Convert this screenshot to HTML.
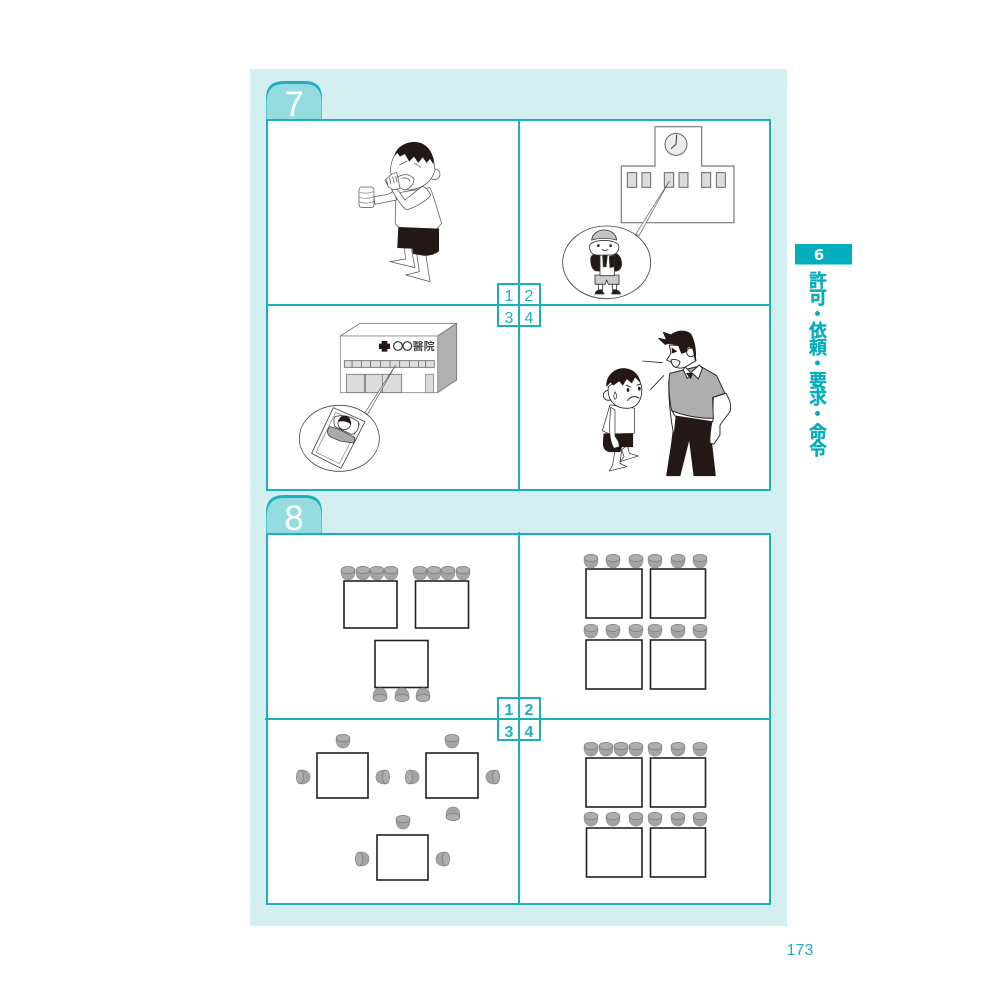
<!DOCTYPE html>
<html><head><meta charset="utf-8"><style>
html,body{margin:0;padding:0;background:#fff}
svg{display:block}
text{font-family:"Liberation Sans","Noto Sans CJK JP",sans-serif}
</style></head><body>
<svg xmlns="http://www.w3.org/2000/svg" width="1000" height="1000" viewBox="0 0 1000 1000">
<defs>
<g id="c">
<path d="M-6.800,-3 C-7.200,1 -6.500,3 -5,4.800 C-3.500,6.500 -2,7 0,7 C2,7 3.500,6.500 5,4.800 C6.500,3 7.200,1 6.800,-3 Z" fill="#a3a3a3" stroke="#8c8c8c" stroke-width=".7"/>
<ellipse cx="0" cy="-3" rx="6.800" ry="3.600" fill="#adadad" stroke="#7c7c7c" stroke-width=".7"/>
</g>
</defs>
<rect x="250" y="69" width="537" height="857" fill="#d4eff0"/>

<!-- tabs -->
<path d="M266,120 V98 Q266,81 284,81 H305 Q322,81 322,98 V120 Z" fill="#1cb0bd"/>
<path d="M266.500,120 V102 Q267,84 284,84 H305 Q321.500,84 321.500,102 V120 Z" fill="#95dce0"/>
<text x="294" y="116" font-size="35" fill="#fff" text-anchor="middle">7</text>
<path d="M266,534 V512 Q266,495 284,495 H305 Q322,495 322,512 V534 Z" fill="#1cb0bd"/>
<path d="M266.500,534 V516 Q267,498 284,498 H305 Q321.500,498 321.500,516 V534 Z" fill="#95dce0"/>
<text x="294" y="530" font-size="35" fill="#fff" text-anchor="middle">8</text>

<!-- frames -->
<rect x="267" y="120" width="503" height="370" fill="#fff" stroke="#1cb0bd" stroke-width="2"/>
<rect x="267" y="534" width="503" height="370" fill="#fff" stroke="#1cb0bd" stroke-width="2"/>

<!-- Boy drinking -->
<g transform="translate(260,75) scale(.3333)" fill="#fff" stroke="#555" stroke-width="2.200" stroke-linejoin="round">
<path d="M433,520 L437,552 L390,560 L465,578 L453,515 Z"/>
<path d="M470,535 L478,590 L437,600 L510,620 L497,535 Z"/>
<path d="M405,355 C412,395 402,430 407,448 L420,460 L530,463 L545,445 C530,400 525,370 510,338 Z"/>
<path d="M416,457 L536,462 L536,528 Q520,542 490,541 L460,536 L458,520 L413,518 Z" fill="#231815" stroke="#231815"/>
<path d="M342,365 L385,358 L402,348 L410,375 L345,388 Z"/>
<path d="M395,345 C410,370 425,395 440,405 C470,395 500,378 512,360 C505,345 495,335 485,335 L435,375 L410,340 Z"/>
<circle cx="524" cy="298" r="16"/>
<path d="M407,235 C395,255 385,285 397,310 C405,335 425,345 450,345 C485,340 515,325 525,285 L520,250 L465,205 Z"/>
<path d="M405,240 C412,215 440,200 470,202 C497,205 520,230 520,265 L510,250 L500,262 L488,245 L475,262 L462,243 L448,258 L435,236 L420,243 L412,232 Z" fill="#231815" stroke="#231815"/>
<path d="M418,270 Q430,264 442,258 M462,265 Q472,268 482,278" fill="none"/>
<path d="M415,305 Q445,290 462,312 Q462,335 435,345 Q415,340 412,325 Z" fill="#fff"/>
<path d="M425,310 Q445,305 450,320" fill="none"/>
<path d="M375,315 L395,298 L410,292 L415,315 L420,340 L400,345 L385,335 Z"/>
<path d="M378,312 L384,330 M388,308 L393,328 M398,305 L403,325 M407,303 L411,322" fill="none"/>
<rect x="297" y="336" width="45" height="62" rx="9"/>
<path d="M299,352 Q320,358 341,350 M299,367 Q320,375 341,365 M299,381 Q320,388 341,380" fill="none" stroke="#888"/>
</g>

<!-- School -->
<g transform="translate(520,115) scale(.3333)">
<path d="M304,153 H405 V35 H545 V153 H642 V323 H304 Z" fill="#fff" stroke="#777" stroke-width="3.500"/>
<circle cx="468" cy="88" r="33" fill="#ececec" stroke="#666" stroke-width="3"/>
<path d="M468,88 L470,60 M468,88 L453,101" stroke="#333" stroke-width="3" fill="none"/>
<g fill="#dcdcdc" stroke="#666" stroke-width="3">
<rect x="322" y="173" width="28" height="44"/><rect x="366" y="173" width="26" height="44"/>
<rect x="433" y="173" width="28" height="44"/><rect x="477" y="173" width="27" height="44"/>
<rect x="545" y="173" width="27" height="44"/><rect x="589" y="173" width="27" height="44"/>
</g>
<path d="M448,198 L347,358 L357,362 Z" fill="#fff" stroke="#555" stroke-width="2"/>
<ellipse cx="260" cy="442" rx="132" ry="109" fill="#fff" stroke="#444" stroke-width="2.500"/>
<!-- kid -->
<g stroke="#333" stroke-width="2.500" stroke-linejoin="round">
<path d="M225,480 H297 V508 H265 L260,495 L255,508 H225 Z" fill="#ccc"/>
<path d="M235,508 H248 V525 H235 Z M277,508 H290 V525 H277 Z" fill="#fff"/>
<path d="M225,537 Q228,524 245,524 L252,537 Z M275,537 L280,524 Q298,524 302,537 Z" fill="#231815"/>
<path d="M212,430 Q215,415 240,415 H285 Q305,420 305,450 Q300,470 285,468 H235 Q212,470 212,430 Z" fill="#231815"/>
<path d="M240,418 H283 V482 H240 Z" fill="#fff"/>
<path d="M248,420 H262 L258,455 H250 Z M268,425 L283,420 V455 L270,458 Z" fill="#231815"/>
<path d="M208,395 C210,370 295,370 297,395 C295,425 270,420 250,420 C225,422 210,420 208,395 Z" fill="#fff"/>
<path d="M215,375 C220,335 285,335 290,375 C265,368 240,368 215,375 Z" fill="#c4c4c4"/>
<circle cx="235" cy="392" r="3" fill="#222"/><circle cx="272" cy="392" r="3" fill="#222"/>
<path d="M245,403 Q255,410 265,403" fill="none"/>
</g>
</g>

<!-- Hospital -->
<g transform="translate(280,305) scale(.3333)">
<path d="M181,93 L240,55 H530 L473,93 Z" fill="#fff" stroke="#777" stroke-width="2.500"/>
<path d="M473,93 L530,55 V225 L473,263 Z" fill="#b0b0b0" stroke="#777" stroke-width="2.500"/>
<rect x="181" y="93" width="292" height="170" fill="#fff" stroke="#888" stroke-width="2.500"/>
<path d="M305,108 H322 V116 H330 V132 H322 V140 H305 V132 H297 V116 H305 Z" fill="#231815"/>
<circle cx="354" cy="123" r="13" fill="none" stroke="#333" stroke-width="3.500"/>
<circle cx="382" cy="123" r="13" fill="none" stroke="#333" stroke-width="3.500"/>
<text x="398" y="135" font-size="33" fill="#444" font-weight="bold" style='font-family:"Noto Sans CJK TC",sans-serif'>醫院</text>
<rect x="193" y="167" width="270" height="20" fill="#ddd" stroke="#666" stroke-width="2.500"/>
<path d="M216,167 V187 M244,167 V187 M272,167 V187 M302,167 V187 M330,167 V187 M359,167 V187 M388,167 V187 M416,167 V187 M437,167 V187" stroke="#666" stroke-width="2.500"/>
<rect x="199" y="208" width="166" height="55" fill="#dcdcdc" stroke="#777" stroke-width="2.500"/>
<path d="M253,208 V263 M257,208 V263 M307,208 V263" stroke="#777" stroke-width="2.500"/>
<rect x="437" y="208" width="24" height="55" fill="#dcdcdc" stroke="#888" stroke-width="2.500"/>
<path d="M347,180 L255,323 L263,328 Z" fill="#fff" stroke="#555" stroke-width="2"/>
<ellipse cx="178" cy="400" rx="120" ry="99" fill="#fff" stroke="#444" stroke-width="2.500"/>
<path d="M160,308 L255,350 L183,490 L95,445 Z" fill="#fff" stroke="#444" stroke-width="2.500" stroke-linejoin="round"/>
<path d="M167,322 L240,356 L178,476 L108,442 Z" fill="none" stroke="#777" stroke-width="1.800"/>
<path d="M165,335 Q200,325 235,350 Q240,380 215,388 L165,365 Q158,345 165,335 Z" fill="#fff" stroke="#444" stroke-width="2.500"/>
<path d="M150,365 L175,372 L225,398 L222,414 L180,408 L150,395 Q135,380 150,365 Z" fill="#aaa" stroke="#444" stroke-width="2.500"/>
<circle cx="193" cy="355" r="19" fill="#fff" stroke="#333" stroke-width="2.500"/>
<path d="M175,350 Q180,328 200,333 Q215,340 212,358 Q198,345 175,350 Z" fill="#231815"/>
</g>

<!-- Man and boy -->
<g transform="translate(570,310) scale(.3333)" stroke="#222" stroke-width="2.800" stroke-linejoin="round" fill="#fff">
<path d="M315,315 L430,330 L425,400 L436,497 H372 L358,385 L330,497 H290 L305,400 Z" fill="#231815" stroke="#231815"/>
<path d="M430,262 L468,250 C480,270 485,290 480,305 L450,345 L450,375 L432,402 L420,400 C418,370 425,340 428,325 Z"/>
<path d="M296,215 C296,260 300,320 312,378 L318,320 L305,300 L300,210 Z"/>
<path d="M305,300 L430,322 L428,335 L315,318 Z"/>
<path d="M300,190 C293,215 298,270 305,302 C345,318 390,325 430,325 L428,262 L465,250 L440,197 L390,168 L340,180 Z" fill="#aeaeae"/>
<path d="M340,180 L352,205 L368,190 L385,207 L397,175 L388,165 L362,188 L345,170 Z" fill="#fff"/>
<path d="M350,190 L362,205 L368,190 Z" fill="#231815"/>
<path d="M298,105 L303,130 L290,150 L303,156 C310,172 325,178 345,172 L378,152 L368,108 Z"/>
<path d="M303,150 Q318,145 330,155 Q328,170 316,172 Q306,168 303,150 Z" fill="#fff"/>
<circle cx="363" cy="127" r="13"/>
<path d="M266,85 L290,90 L280,67 L303,75 C320,62 345,58 362,72 C375,95 378,125 376,152 L370,120 C362,105 350,108 348,125 L335,130 L325,105 L300,100 L285,103 Z" fill="#231815" stroke="#231815"/>
<path d="M305,112 L322,125 L306,130 Z" fill="#231815" stroke="none"/>
<path d="M217,153 L278,158 M241,239 L282,196" fill="none" stroke-width="2.500"/>
<!-- boy -->
<path d="M135,420 L128,465 L118,483 L170,470 L150,460 L155,420 Z" stroke-width="2"/>
<path d="M155,420 L162,440 L150,455 L205,438 L178,430 L172,405 Z" stroke-width="2"/>
<path d="M120,285 L97,362 L118,372 L193,370 L193,295 L175,290 Z" stroke-width="2"/>
<path d="M102,372 H188 V410 H155 L150,425 L118,425 Q100,420 100,400 Z" fill="#231815" stroke="#231815"/>
<path d="M118,355 C120,380 122,400 132,415 L148,410 L146,396 L135,378 L135,300 L122,292 Z" stroke-width="2"/>
<circle cx="115" cy="256" r="15" stroke-width="2.500"/>
<path d="M115,230 C110,270 135,295 170,295 C205,295 218,265 215,230 C210,205 190,190 165,190 Z" stroke-width="2.500"/>
<path d="M110,228 C110,195 135,175 165,176 C190,178 205,195 210,215 L195,200 L185,218 L170,205 L158,225 L148,212 L130,225 L122,215 Z" fill="#231815" stroke="#231815"/>
<path d="M135,245 Q128,260 135,268 Q145,262 135,245 Z" stroke-width="2"/>
<ellipse cx="174" cy="240" rx="4" ry="6" fill="#222" stroke="none"/>
<ellipse cx="208" cy="236" rx="4" ry="6" fill="#222" stroke="none"/>
<path d="M168,225 L182,232 M200,226 L212,222 M172,272 Q188,252 208,265" fill="none" stroke-width="3"/>
</g>

<!-- grid lines 7 -->
<path d="M519,120 V490 M267,305 H770" stroke="#1cb0bd" stroke-width="2" fill="none"/>
<rect x="498" y="284" width="42" height="42" fill="#fff" stroke="#1cb0bd" stroke-width="2"/>
<path d="M519,284 V326 M498,305 H540" stroke="#1cb0bd" stroke-width="2"/>
<g font-size="16" fill="#1cb0bd" text-anchor="middle">
<text x="509" y="301">1</text><text x="529" y="301">2</text><text x="509" y="323">3</text><text x="529" y="323">4</text>
</g>

<!-- tables 8 -->
<g fill="#fff" stroke="#222" stroke-width="1.600">
<rect x="344" y="581" width="53" height="47"/><rect x="415.500" y="581" width="53" height="47"/><rect x="375" y="640.500" width="53" height="47"/>
<rect x="586" y="569" width="56" height="49"/><rect x="650.500" y="569" width="55" height="49"/><rect x="586" y="640" width="56" height="49"/><rect x="650.500" y="640" width="55" height="49"/>
<rect x="317" y="753" width="51" height="45"/><rect x="426" y="753" width="52" height="45"/><rect x="377" y="835" width="51" height="45"/>
<rect x="586" y="758" width="56" height="49"/><rect x="650.500" y="758" width="55" height="49"/><rect x="586.500" y="828" width="55.500" height="49"/><rect x="650.500" y="828" width="55" height="49"/>
</g>
<use href="#c" x="348" y="573"/><use href="#c" x="363" y="573"/><use href="#c" x="377" y="573"/><use href="#c" x="391" y="573"/>
<use href="#c" x="420" y="573"/><use href="#c" x="434" y="573"/><use href="#c" x="448" y="573"/><use href="#c" x="463" y="573"/>
<use href="#c" transform="translate(380,695) rotate(180)"/><use href="#c" transform="translate(402,695) rotate(180)"/><use href="#c" transform="translate(423,695) rotate(180)"/>
<use href="#c" x="591" y="561"/><use href="#c" x="613" y="561"/><use href="#c" x="636" y="561"/><use href="#c" x="655" y="561"/><use href="#c" x="678" y="561"/><use href="#c" x="700" y="561"/>
<use href="#c" x="591" y="631"/><use href="#c" x="613" y="631"/><use href="#c" x="636" y="631"/><use href="#c" x="655" y="631"/><use href="#c" x="678" y="631"/><use href="#c" x="700" y="631"/>
<use href="#c" x="343" y="741"/><use href="#c" x="452" y="741"/><use href="#c" x="403" y="822"/>
<use href="#c" transform="translate(453,814) rotate(180)"/>
<use href="#c" transform="translate(303,777) rotate(-90)"/><use href="#c" transform="translate(412,777) rotate(-90)"/><use href="#c" transform="translate(362,859) rotate(-90)"/>
<use href="#c" transform="translate(383,777) rotate(90)"/><use href="#c" transform="translate(493,777) rotate(90)"/><use href="#c" transform="translate(443,859) rotate(90)"/>
<use href="#c" x="591" y="749"/><use href="#c" x="606" y="749"/><use href="#c" x="621" y="749"/><use href="#c" x="636" y="749"/><use href="#c" x="655" y="749"/><use href="#c" x="678" y="749"/><use href="#c" x="700" y="749"/>
<use href="#c" x="591" y="819"/><use href="#c" x="613" y="819"/><use href="#c" x="636" y="819"/><use href="#c" x="655" y="819"/><use href="#c" x="678" y="819"/><use href="#c" x="700" y="819"/>

<!-- grid lines 8 -->
<path d="M519,532 V904 M265,719 H770" stroke="#1cb0bd" stroke-width="2" fill="none"/>
<rect x="498" y="698" width="42" height="42" fill="#fff" stroke="#1cb0bd" stroke-width="2"/>
<path d="M519,698 V740 M498,719 H540" stroke="#1cb0bd" stroke-width="2"/>
<g font-size="16" font-weight="bold" fill="#1cb0bd" text-anchor="middle">
<text x="509" y="715">1</text><text x="529" y="715">2</text><text x="509" y="737">3</text><text x="529" y="737">4</text>
</g>

<!-- sidebar -->
<rect x="795" y="244" width="57" height="20.500" fill="#00aebd"/>
<text x="819" y="260" font-size="15" font-weight="bold" fill="#fff" text-anchor="middle" style='font-family:"DejaVu Sans",sans-serif'>6</text>
<g font-size="18" font-weight="bold" fill="#00aebd" stroke="#00aebd" stroke-width=".3" text-anchor="middle" style='font-family:"Noto Sans CJK TC",sans-serif'>
<text x="818" y="287">許</text><text x="818" y="304">可</text>
<text x="818" y="337">依</text><text x="818" y="354">頼</text>
<text x="818" y="387">要</text><text x="818" y="404">求</text>
<text x="818" y="439">命</text><text x="818" y="455">令</text>
</g>
<circle cx="817.500" cy="313.500" r="2.500" fill="#00aebd"/>
<circle cx="817.500" cy="363" r="2.500" fill="#00aebd"/>
<circle cx="817.500" cy="413.500" r="2.500" fill="#00aebd"/>

<text x="800" y="955" font-size="16" fill="#1cb0bd" text-anchor="middle">173</text>
</svg>
</body></html>
